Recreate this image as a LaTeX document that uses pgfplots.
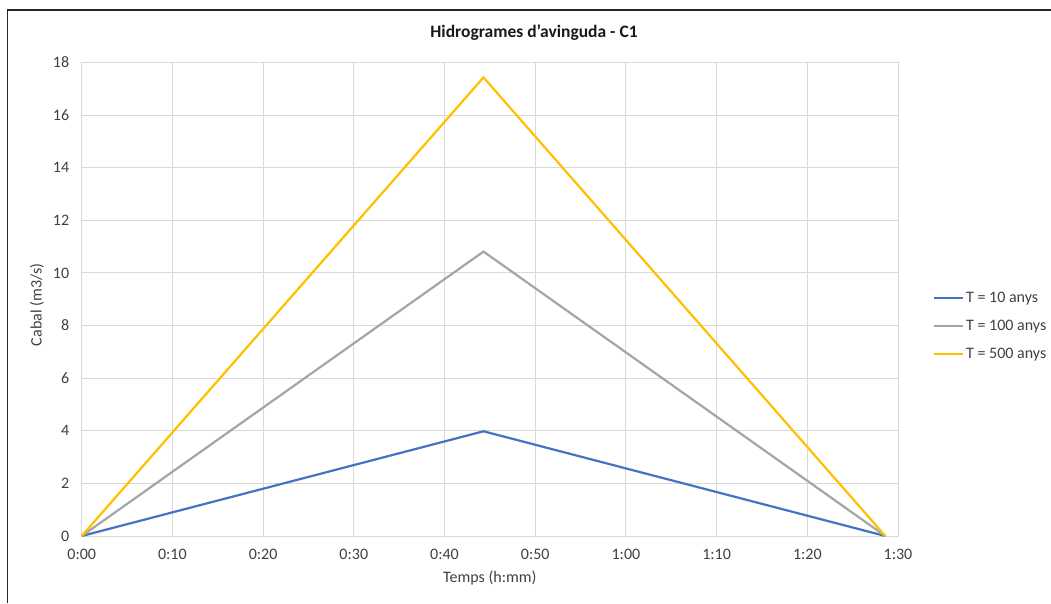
\documentclass[border=0pt]{standalone}
\usepackage{fontspec}
\setmainfont{Carlito}
\usepackage{pgfplots}
\pgfplotsset{compat=1.18}
\definecolor{cblue}{HTML}{4472C4}
\definecolor{cgray}{HTML}{A5A5A5}
\definecolor{cgold}{HTML}{FFC000}
\definecolor{ctext}{HTML}{404040}
\begin{document}
\begin{tikzpicture}[x=1pt,y=1pt]
\useasboundingbox (0,0) rectangle (1051,603);
\draw[black!85, line width=1.2pt] (7.5,0) -- (7.5,593) -- (1051,593);
\node[font=\bfseries\fontsize{17.5}{21}\selectfont, text=black!90] at (534,570) {Hidrogrames d'avinguda - C1};
\begin{axis}[
  at={(81.7pt,67pt)}, anchor=south west,
  scale only axis, width=816.3pt, height=473.6pt,
  xmin=0, xmax=90, ymin=0, ymax=18,
  clip=false,
  xtick={0,10,...,90},
  xticklabels={0:00,0:10,0:20,0:30,0:40,0:50,1:00,1:10,1:20,1:30},
  ytick={0,2,...,18},
  grid=major,
  grid style={color=black!15, line width=0.9pt},
  axis line style={black!15, line width=0.9pt},
  tick style={draw=none},
  /pgf/number format/assume math mode=true,
  ticklabel style={font=\fontsize{16}{19}\selectfont, text=ctext},
  xticklabel style={yshift=-10pt},
  yticklabel style={xshift=-9pt},
  xlabel={Temps (h:mm)},
  ylabel={Cabal (m3/s)},
  label style={font=\fontsize{16}{19}\selectfont, text=ctext},
  xlabel style={at={(axis description cs:0.5,-0.0887)}, anchor=center},
  ylabel style={at={(axis description cs:-0.0548,0.488)}, anchor=center},
  legend style={at={(axis description cs:1.039,0.443)}, anchor=west, draw=none, fill=none,
    font=\fontsize{16}{19}\selectfont, text=ctext, row sep=12pt,
    /tikz/every even column/.append style={column sep=1pt}},
  legend cell align=left,
  legend image code/.code={\draw[#1] (0pt,0pt) -- (29pt,0pt);},
]
\addplot[cblue, line width=2.2pt] coordinates {(0,0) (44.3,3.98) (88.6,0)};
\addlegendentry{T = 10 anys}
\addplot[cgray, line width=2.2pt] coordinates {(0,0) (44.3,10.81) (88.6,0)};
\addlegendentry{T = 100 anys}
\addplot[cgold, line width=2.2pt] coordinates {(0,0) (44.3,17.43) (88.6,0)};
\addlegendentry{T = 500 anys}
\end{axis}
\end{tikzpicture}
\end{document}
